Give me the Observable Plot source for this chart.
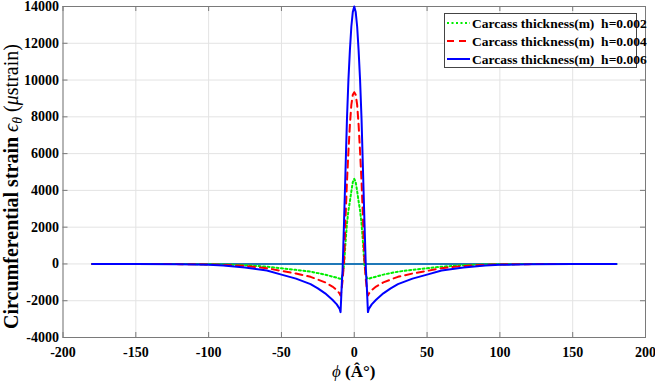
<!DOCTYPE html>
<html>
<head>
<meta charset="utf-8">
<script src="https://cdn.jsdelivr.net/npm/d3@7"></script>
<script src="https://cdn.jsdelivr.net/npm/@observablehq/plot@0.6"></script>
<style>
  html, body { margin: 0; padding: 0; background: #fff; }
  #chart { position: relative; width: 655px; height: 382px; }
  #chart svg text { font-family: "Liberation Serif", "Times New Roman", serif; }
</style>
</head>
<body>
<div id="chart"></div>
<script>
// Circumferential angle (degrees)
const phi = [
  -180, -150, -120, -100, -90, -75, -60, -50, -40, -30, -25, -20, -15, -12, -10,
  -9.4, -9, -8.5, -8, -7, -6, -5, -4, -3, -2, -1,
  0,
  1, 2, 3, 4, 5, 6, 7, 8, 8.5, 9, 9.4,
  10, 12, 15, 20, 25, 30, 40, 50, 60, 75, 90, 100, 120, 150, 180
];

// Circumferential strain (µstrain), carcass thickness h = 0.002 m
const strainH002 = [
  0, -2, -5, -15, -30, -65, -150, -235, -320, -420, -500, -580, -690, -750, -800,
  -810, -790, -720, -600, -50, 1150, 2200, 2900, 3400, 3950, 4450,
  4630,
  4450, 3950, 3400, 2900, 2200, 1150, -50, -600, -720, -790, -810,
  -800, -750, -690, -580, -500, -420, -320, -235, -150, -65, -30, -15, -5, -2, 0
];

// h = 0.004 m
const strainH004 = [
  0, -3, -10, -25, -50, -110, -230, -380, -520, -700, -850, -1000, -1230, -1420, -1620,
  -1720, -1550, -1250, -900, 150, 2450, 4500, 6100, 7550, 8650, 9200,
  9340,
  9200, 8650, 7550, 6100, 4500, 2450, 150, -900, -1250, -1550, -1720,
  -1620, -1420, -1230, -1000, -850, -700, -520, -380, -230, -110, -50, -25, -10, -3, 0
];

// h = 0.006 m
const strainH006 = [
  0, -5, -20, -50, -90, -190, -360, -580, -800, -1100, -1330, -1600, -1950, -2200, -2450,
  -2620, -1900, -1000, -300, 2300, 5100, 7900, 10000, 11600, 12900, 13700,
  14000,
  13700, 12900, 11600, 10000, 7900, 5100, 2300, -300, -1000, -1900, -2620,
  -2450, -2200, -1950, -1600, -1330, -1100, -800, -580, -360, -190, -90, -50, -20, -5, 0
];

// Reference line at zero strain
const baselinePhi = [-180, 180];
const baselineStrain = [0, 0];

const xTicks = [-200, -150, -100, -50, 0, 50, 100, 150, 200];
const yTicks = [-4000, -2000, 0, 2000, 4000, 6000, 8000, 10000, 12000, 14000];

const seriesLabels = [
  "Carcass thickness(m)  h=0.002",
  "Carcass thickness(m)  h=0.004",
  "Carcass thickness(m)  h=0.006"
];
const seriesColors = ["#00ee00", "#ff0000", "#0000ff"];
const seriesDash = ["2,2.5", "7,5", null];

const rows = (ys) => phi.map((p, i) => ({phi: p, strain: ys[i]}));
const baseline = baselinePhi.map((p, i) => ({phi: p, strain: baselineStrain[i]}));

const W = 655, H = 382;
const mL = 62.5, mR = 10, mT = 6, mB = 45;
const frameW = W - mL - mR, frameH = H - mT - mB;
const tickLen = 5;
const axisGray = "#7a7a7a";
const serif = "Liberation Serif, Times New Roman, serif";
const tickFont = {fontFamily: serif, fontSize: 14, fontWeight: "bold", fill: "#000"};

const svg = Plot.plot({
  width: W,
  height: H,
  marginLeft: mL,
  marginRight: mR,
  marginTop: mT,
  marginBottom: mB,
  x: {domain: [-200, 200]},
  y: {domain: [-4000, 14000]},
  style: {
    fontFamily: serif,
    fontSize: "14px",
    color: "#000",
    background: "#fff"
  },
  marks: [
    Plot.gridX(xTicks, {stroke: "#e3e3e3", strokeOpacity: 1}),
    Plot.gridY(yTicks, {stroke: "#e3e3e3", strokeOpacity: 1}),
    Plot.frame({stroke: axisGray, strokeWidth: 1}),
    // inward tick marks on all four sides
    Plot.tickX(xTicks, {x: d => d, insetTop: frameH - tickLen, stroke: axisGray}),
    Plot.tickX(xTicks, {x: d => d, insetBottom: frameH - tickLen, stroke: axisGray}),
    Plot.tickY(yTicks, {y: d => d, insetRight: frameW - tickLen, stroke: axisGray}),
    Plot.tickY(yTicks, {y: d => d, insetLeft: frameW - tickLen, stroke: axisGray}),
    Plot.axisX(xTicks, {tickSize: 0, tickPadding: 10, label: null, tickFormat: d => `${d}`, ...tickFont}),
    Plot.axisY(yTicks, {tickSize: 0, tickPadding: 4, label: null, tickFormat: d => `${d}`, ...tickFont}),
    Plot.line(baseline, {x: "phi", y: "strain", stroke: "#1f78b8", strokeWidth: 2}),
    Plot.line(rows(strainH002), {x: "phi", y: "strain", stroke: seriesColors[0], strokeWidth: 2, strokeDasharray: seriesDash[0]}),
    Plot.line(rows(strainH004), {x: "phi", y: "strain", stroke: seriesColors[1], strokeWidth: 2, strokeDasharray: seriesDash[1]}),
    Plot.line(rows(strainH006), {x: "phi", y: "strain", stroke: seriesColors[2], strokeWidth: 2})
  ]
});

const root = d3.select(svg);

// x-axis title
const xt = root.append("text")
  .attr("x", mL + frameW / 2)
  .attr("y", 377)
  .attr("text-anchor", "middle")
  .attr("font-family", serif)
  .attr("font-size", 17)
  .attr("font-weight", "bold")
  .attr("fill", "#000");
xt.append("tspan").attr("font-style", "italic").attr("font-weight", "normal").text("ϕ");
xt.append("tspan").text(" (Â°)");

// y-axis title
const yt = root.append("text")
  .attr("transform", `translate(18,186.5) rotate(-90)`)
  .attr("text-anchor", "middle")
  .attr("font-family", serif)
  .attr("font-size", 20)
  .attr("fill", "#000");
yt.append("tspan").attr("font-weight", "bold").text("Circumferential strain ");
yt.append("tspan").attr("font-style", "italic").text("ϵ");
yt.append("tspan").attr("font-style", "italic").attr("font-size", 14).attr("dy", 4).text("θ");
yt.append("tspan").attr("dy", -4).text(" (");
yt.append("tspan").attr("font-style", "italic").text("μ");
yt.append("tspan").text("strain)");

// legend box
const lg = root.append("g").attr("text-anchor", "start");
lg.append("rect")
  .attr("x", 444.5).attr("y", 13.5).attr("width", 192).attr("height", 54)
  .attr("fill", "#fff").attr("stroke", "#444").attr("stroke-width", 1);
seriesLabels.forEach((label, i) => {
  const cy = 23 + i * 18;
  lg.append("line")
    .attr("x1", 447).attr("x2", 470).attr("y1", cy).attr("y2", cy)
    .attr("stroke", seriesColors[i]).attr("stroke-width", 2)
    .attr("stroke-dasharray", seriesDash[i]);
  lg.append("text")
    .attr("x", 472).attr("y", cy + 4.5)
    .attr("text-anchor", "start")
    .attr("font-family", serif).attr("font-size", 13.5).attr("font-weight", "bold")
    .attr("fill", "#000")
    .attr("xml:space", "preserve")
    .style("white-space", "pre")
    .text(label);
});

document.getElementById("chart").appendChild(svg);
</script>
</body>
</html>
